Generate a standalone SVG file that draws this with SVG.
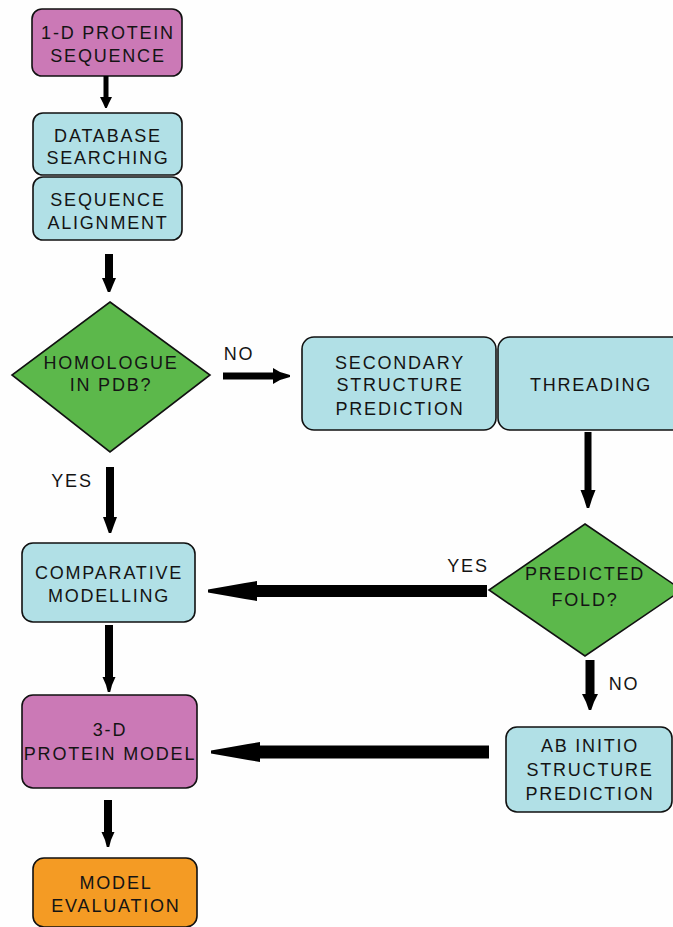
<svg xmlns="http://www.w3.org/2000/svg" width="673" height="927" viewBox="0 0 673 927">
<style>
.box{stroke:#111;stroke-width:1.6}
.mag{fill:#CB79B6}
.blu{fill:#B1E0E6}
.grn{fill:#5CB84B}
.org{fill:#F49B24}
text{font-family:"Liberation Sans",Arial,sans-serif;font-size:18px;letter-spacing:1.8px;fill:#141414;text-anchor:middle}
.arr{fill:#000}
</style>
<rect width="673" height="927" fill="#fefefe"/>
<g id="n1"><rect class="box mag" x="32" y="9" width="150" height="67" rx="10"/><text x="108" y="38.5">1-D PROTEIN</text><text x="108" y="61.5">SEQUENCE</text></g>
<g id="n2"><rect class="box blu" x="33" y="113" width="149" height="62" rx="10"/><text x="108" y="141.5">DATABASE</text><text x="108" y="163.5">SEARCHING</text></g>
<g id="n3"><rect class="box blu" x="33" y="177" width="149" height="63" rx="10"/><text x="108" y="205.5">SEQUENCE</text><text x="108" y="228.5">ALIGNMENT</text></g>
<g id="d1"><polygon class="box grn" points="110,302 210,375 110,452 12,375"/><text x="111" y="369">HOMOLOGUE</text><text x="111" y="391">IN PDB?</text></g>
<g id="s1"><rect class="box blu" x="302" y="337" width="194" height="93" rx="12"/><text x="400" y="368.5">SECONDARY</text><text x="400" y="390.5">STRUCTURE</text><text x="400" y="414.5">PREDICTION</text></g>
<g id="s2"><rect class="box blu" x="498" y="337" width="190" height="93" rx="12"/><text x="591" y="390.5">THREADING</text></g>
<g id="c1"><rect class="box blu" x="22" y="543" width="173" height="79" rx="11"/><text x="109" y="578.5">COMPARATIVE</text><text x="109" y="601.5">MODELLING</text></g>
<g id="d2"><polygon class="box grn" points="585,524 682,590 585,656 489,590"/><text x="585" y="579.5">PREDICTED</text><text x="585" y="606">FOLD?</text></g>
<g id="a1"><rect class="box blu" x="506" y="727" width="166" height="85" rx="11"/><text x="590" y="751.5">AB INITIO</text><text x="590" y="775.5">STRUCTURE</text><text x="590" y="799.5">PREDICTION</text></g>
<g id="m1"><rect class="box mag" x="22" y="695" width="175" height="93" rx="11"/><text x="110" y="735.5">3-D</text><text x="110" y="759.5">PROTEIN MODEL</text></g>
<g id="e1"><rect class="box org" x="33" y="858" width="164" height="69" rx="11"/><text x="116" y="888.5">MODEL</text><text x="116" y="911.5">EVALUATION</text></g>
<g id="connectors">
<polygon class="arr" points="103.5,76 108.5,76 108.5,97 112,97 109,103 106.8,108 105.2,108 103,103 100,97 103.5,97"/>
<polygon class="arr" points="105,254 113,254 113,278 116,278 113,285 110.2,292 107.8,292 105,285 102,278 105,278"/>
<polygon class="arr" points="223,372.5 273,372.5 273,368 280,372 290,375 290,377 280,380 273,384 273,379.5 223,379.5"/>
<polygon class="arr" points="106,467 114,467 114,517 117,517 114,525 111.2,533 108.8,533 106,525 103,517 106,517"/>
<polygon class="arr" points="584.5,432 591.5,432 591.5,490 595.5,490 592,499 589.2,508 586.8,508 584,499 580.5,490 584.5,490"/>
<polygon class="arr" points="487,585 257,585 257,581 245,583 228,586 208,589.5 208,592.5 228,596 245,599 257,601 257,597 487,597"/>
<polygon class="arr" points="585.5,660 594.5,660 594.5,694 598,694 594,702 591.2,710 588.8,710 586,702 582,694 585.5,694"/>
<polygon class="arr" points="489,745.5 260,745.5 260,742 248,744 231,747 211,750.5 211,753.5 231,757 248,760 260,762 260,758.5 489,758.5"/>
<polygon class="arr" points="105,625 113,625 113,677 115.5,677 112,685 110.2,692 107.8,692 106,685 102.5,677 105,677"/>
<polygon class="arr" points="104,800 112,800 112,832 114.5,832 111,840 109.2,847 106.8,847 105,840 101.5,832 104,832"/>
<text x="239" y="359.5">NO</text>
<text x="72" y="486.5">YES</text>
<text x="468" y="571.5">YES</text>
<text x="624" y="689.5">NO</text>
</g>
</svg>
